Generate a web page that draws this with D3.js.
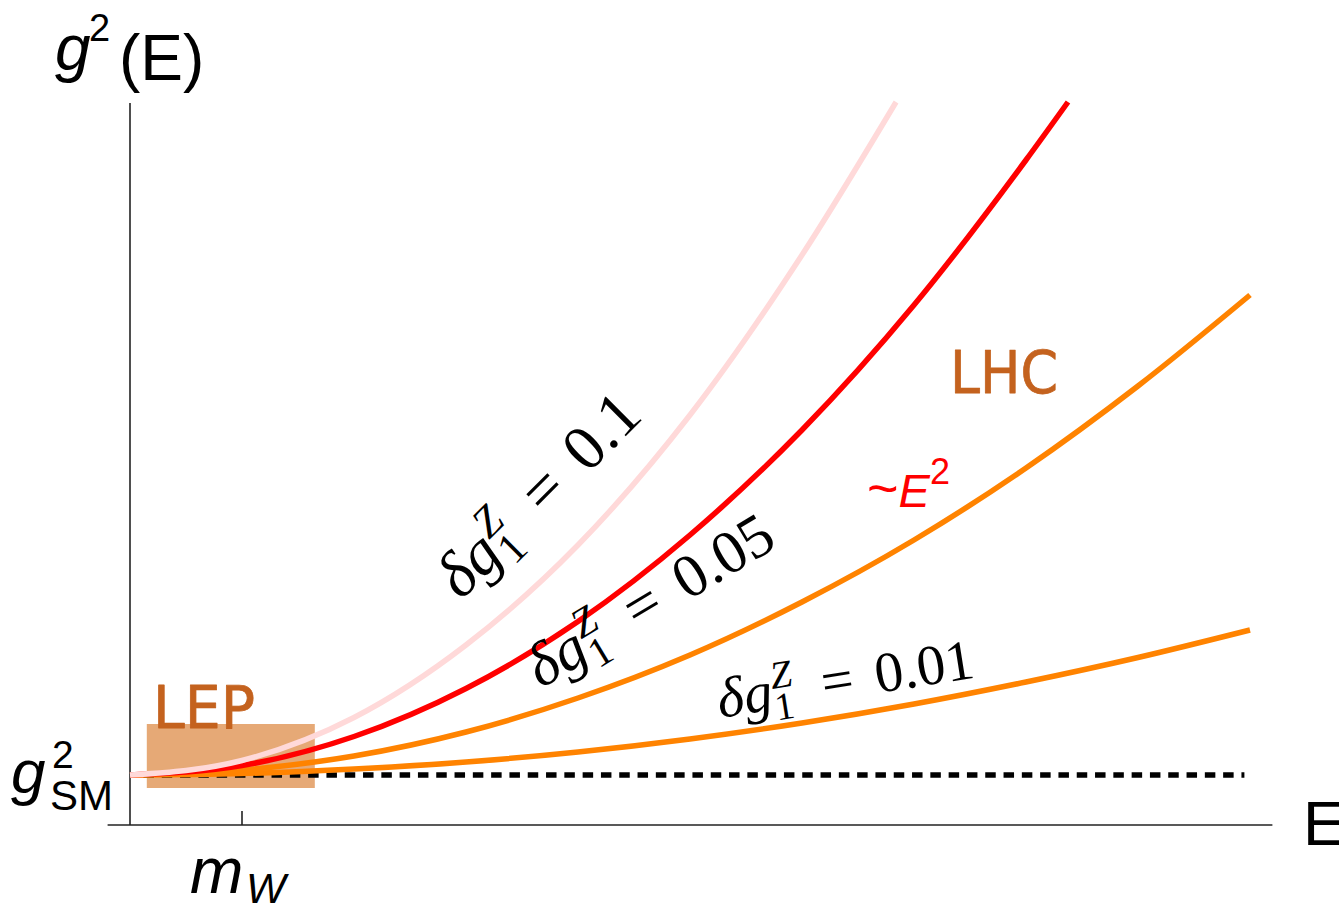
<!DOCTYPE html>
<html>
<head>
<meta charset="utf-8">
<script src="https://cdn.jsdelivr.net/npm/d3@7"></script>
<style>
  html, body { margin: 0; padding: 0; background: #ffffff; }
  svg { display: block; }
</style>
</head>
<body>
<svg id="chart" width="1339" height="912"></svg>
<script>
// ---- data (E in units of m_W, g^2 in units of g_SM^2) ----
const energyPink   = [0, 1, 2, 3, 4, 5, 6, 6.84];
const g2Pink       = [1, 1.29, 2.15, 3.6, 5.6, 8.2, 11.4, 14.46];
const energyRed    = [0, 1, 2, 3, 4, 5, 6, 7, 8, 8.375];
const g2Red        = [1, 1.19, 1.77, 2.73, 4.07, 5.8, 7.9, 10.4, 13.3, 14.46];
const energyOrange = [0, 1, 2, 3, 4, 5, 6, 7, 8, 9, 10];
const g2OrangeMid  = [1, 1.1, 1.38, 1.86, 2.54, 3.4, 4.46, 5.7, 7.14, 8.78, 10.6];
const g2OrangeLow  = [1, 1.03, 1.12, 1.26, 1.46, 1.72, 2.04, 2.42, 2.86, 3.35, 3.9];
const smLevel      = 1;          // g_SM^2
const smLineEnd    = 9.95;       // end of dashed SM line
const mW           = 1;          // tick position on E axis
const lepBox       = {e0: 0.15, e1: 1.65, g0: 0.74, g1: 2.02};
const labelValues  = ["0.1", "0.05", "0.01"];

// ---- scales ----
const svg = d3.select("#chart");
const x = d3.scaleLinear().domain([0, 10.2]).range([130, 1272.4]);
const y = d3.scaleLinear().domain([0, 14.44]).range([825, 103]);

svg.append("rect").attr("width", 1339).attr("height", 912).attr("fill", "#fff");

// LEP box
svg.append("rect")
  .attr("x", x(lepBox.e0)).attr("y", y(lepBox.g1))
  .attr("width", x(lepBox.e1) - x(lepBox.e0))
  .attr("height", y(lepBox.g0) - y(lepBox.g1))
  .attr("fill", "#e6a976");

// axes
const axisColor = "#222";
svg.append("line").attr("x1", x(0)).attr("x2", x(0)).attr("y1", y(14.44)).attr("y2", y(0))
  .attr("stroke", axisColor).attr("stroke-width", 1.6);
svg.append("line").attr("x1", x(-0.2)).attr("x2", x(10.2)).attr("y1", y(0)).attr("y2", y(0))
  .attr("stroke", axisColor).attr("stroke-width", 1.6);
// ticks
svg.append("line").attr("x1", x(mW)).attr("x2", x(mW)).attr("y1", y(0)).attr("y2", y(0) - 14)
  .attr("stroke", axisColor).attr("stroke-width", 1.6);
svg.append("line").attr("x1", x(0)).attr("x2", x(0) + 13).attr("y1", y(smLevel)).attr("y2", y(smLevel))
  .attr("stroke", axisColor).attr("stroke-width", 1.6);

// dashed SM line
svg.append("line").attr("x1", x(0.12)).attr("x2", x(smLineEnd)).attr("y1", y(smLevel)).attr("y2", y(smLevel))
  .attr("stroke", "#000").attr("stroke-width", 5.5).attr("stroke-dasharray", "10.5,7.8");

// curves
const line = d3.line().x(d => x(d[0])).y(d => y(d[1])).curve(d3.curveMonotoneX);
const series = [
  {e: energyOrange, g: g2OrangeLow, color: "#ff8300"},
  {e: energyOrange, g: g2OrangeMid, color: "#ff8300"},
  {e: energyRed,    g: g2Red,       color: "#ff0000"},
  {e: energyPink,   g: g2Pink,      color: "#ffd9d9"}
];
series.forEach(s => {
  svg.append("path")
    .datum(s.e.map((e, i) => [e, s.g[i]]))
    .attr("d", line)
    .attr("fill", "none")
    .attr("stroke", s.color)
    .attr("stroke-width", 5.5);
});

// axis labels
const sans = "'Liberation Sans', Arial, sans-serif";
function txt(str, px, py, size, opts = {}) {
  return svg.append("text").attr("x", px).attr("y", py)
    .attr("font-family", opts.family || sans)
    .attr("font-size", size)
    .attr("font-style", opts.italic ? "italic" : "normal")
    .attr("fill", opts.fill || "#000")
    .text(str);
}
txt("g", 55, 70, 64, {italic: true});
txt("2", 89, 41, 38);
txt("(E)", 119, 80, 64);

txt("g", 11, 793, 62, {italic: true});
txt("2", 52, 768, 39);
txt("SM", 50, 810, 42);

txt("m", 190, 893, 64, {italic: true});
txt("W", 246, 903, 42, {italic: true});

txt("E", 1303, 845, 63);

// LEP / LHC
const comic = "'DejaVu Sans', sans-serif";
svg.append("text").attr("x", 153).attr("y", 728).attr("font-family", comic).attr("font-size", 59)
  .attr("fill", "#c4621e").attr("stroke", "#c4621e").attr("stroke-width", 0.8).attr("stroke-linejoin", "round")
  .attr("textLength", 102).attr("lengthAdjust", "spacingAndGlyphs").text("LEP");
svg.append("text").attr("x", 950).attr("y", 393).attr("font-family", comic).attr("font-size", 59)
  .attr("fill", "#c4621e").attr("stroke", "#c4621e").attr("stroke-width", 0.8).attr("stroke-linejoin", "round")
  .attr("textLength", 108).attr("lengthAdjust", "spacingAndGlyphs").text("LHC");

// ~E^2
const e2 = svg.append("text").attr("x", 867).attr("y", 507).attr("font-family", sans)
  .attr("font-size", 47).attr("fill", "#ff0000");
e2.append("tspan").attr("font-size", 54).text("~");
e2.append("tspan").attr("font-style", "italic").text("E");
e2.append("tspan").attr("font-size", 36).attr("dy", -23).text("2");

// math labels
const serif = "'Liberation Serif', serif";
function mathLabel(px, py, angle, size, value) {
  const g = svg.append("g").attr("transform", `translate(${px},${py}) rotate(${angle})`);
  const em = size;
  const put = (str, lx, ly, fs, italic) => g.append("text")
    .attr("x", lx).attr("y", ly).attr("font-family", serif).attr("font-size", fs)
    .attr("font-style", italic ? "italic" : "normal").attr("fill", "#000").text(str);
  put("δ", 0, 0, em, true);
  put("g", 0.47 * em, 0, em, true);
  put("1", 0.98 * em, 0.2 * em, 0.68 * em, false);
  put("Z", 0.98 * em, -0.36 * em, 0.68 * em, true);
  put("=", 1.85 * em, 0, em, false);
  put(value, 2.8 * em, 0, em, false);
}
mathLabel(461, 601, -45, 64, labelValues[0]);
mathLabel(541, 689, -31, 61, labelValues[1]);
mathLabel(720, 718, -9, 57, labelValues[2]);
</script>
</body>
</html>
